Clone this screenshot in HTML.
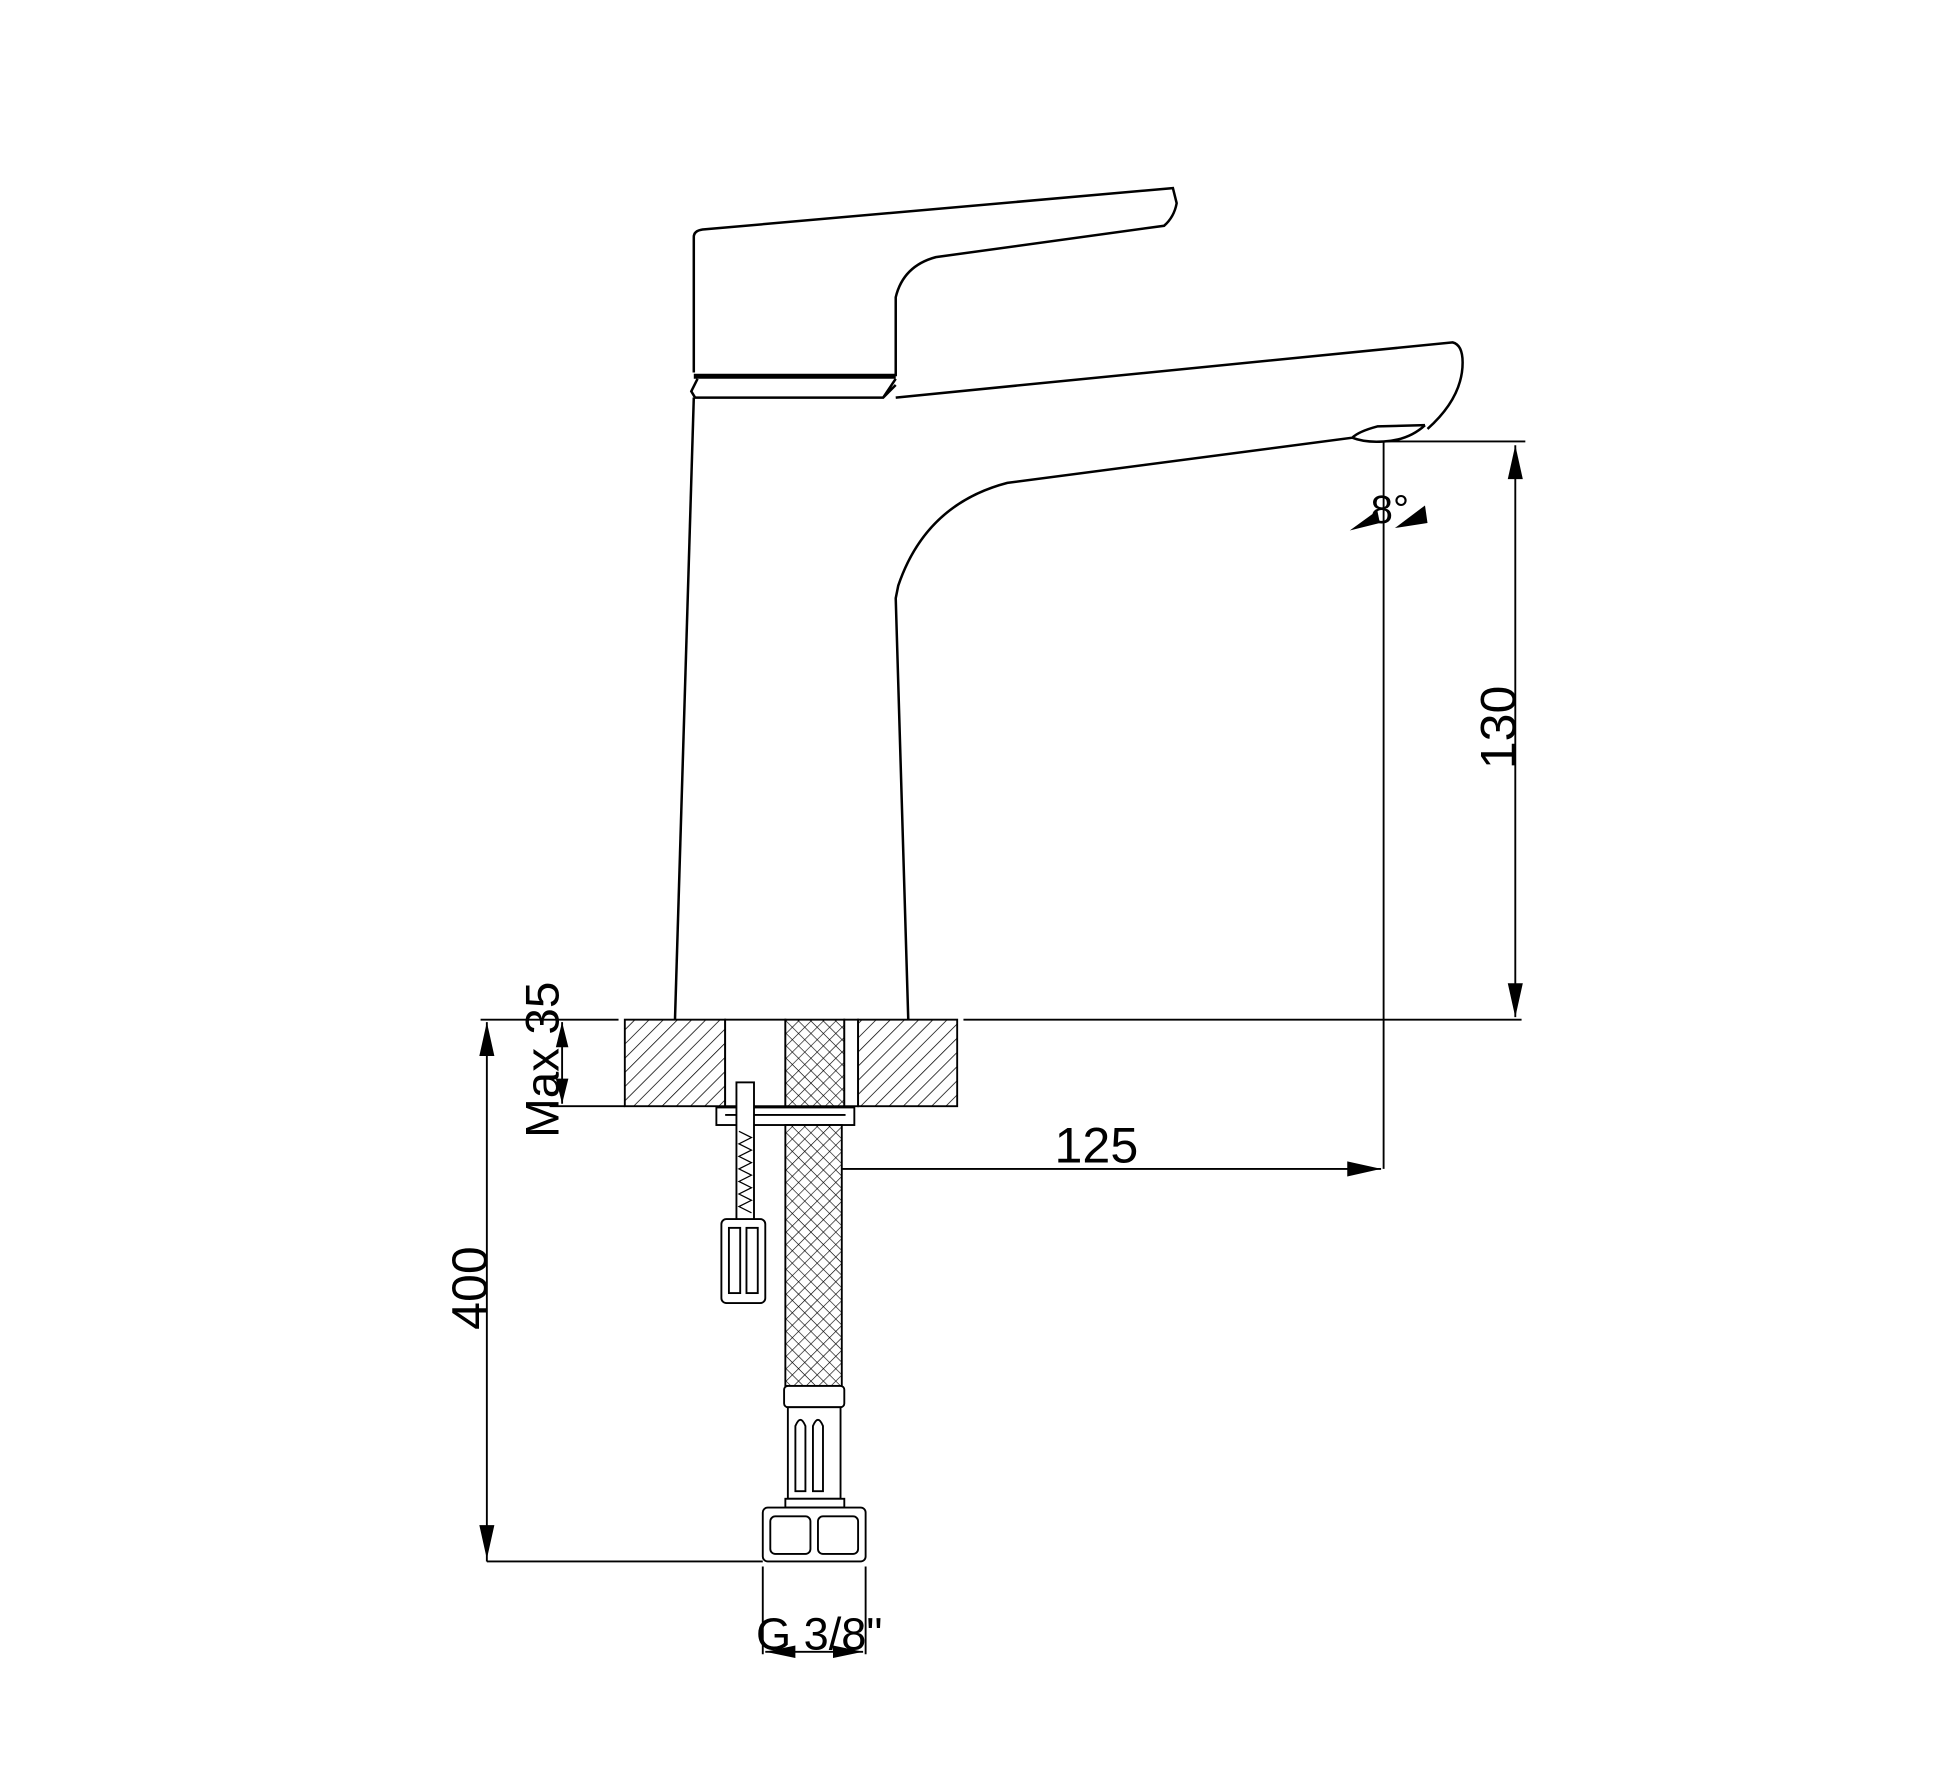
<!DOCTYPE html>
<html><head><meta charset="utf-8"><style>html,body{margin:0;padding:0;background:#fff}svg{display:block}</style></head>
<body>
<svg width="1957" height="1791" viewBox="2 3 1560 1428" xmlns="http://www.w3.org/2000/svg" font-family="Liberation Sans, sans-serif">
<defs>
<pattern id="hatch" width="8" height="8" patternUnits="userSpaceOnUse" patternTransform="rotate(45)">
<rect width="8" height="8" fill="#fff"/><line x1="0" y1="0" x2="0" y2="8" stroke="#000" stroke-width="1.2"/>
</pattern>
<pattern id="cross" width="7" height="7" patternUnits="userSpaceOnUse" patternTransform="rotate(45)">
<rect width="7" height="7" fill="#fff"/><line x1="0" y1="0" x2="0" y2="7" stroke="#000" stroke-width="1"/><line x1="0" y1="0" x2="7" y2="0" stroke="#000" stroke-width="1"/>
</pattern>
</defs>
<g fill="none" stroke="#000" stroke-width="2">
<path d="M555 300 L555 192 Q555 187 562 186 L937 153 L940 165 Q938 176 930 183 L748 208 Q722 215 716 240 L716 303"/>
<line x1="555" y1="303" x2="716" y2="303" stroke-width="4"/>
<path d="M558 305 L553 315 L556 320 L706 320 L716 310 M706 320 L716 305"/>
<path d="M716 320 L1160 276 Q1168 278 1168 292 Q1168 320 1140 345"/>
<path d="M1138 342 L1100 343 Q1085 347 1080 352 L805 388 Q740 405 718 470 L716 480 L726 816"/>
<path d="M1080 352 Q1090 356 1105 355 Q1125 354 1138 342"/>
<path d="M555 320 L540 816"/>
</g>
<g stroke="#000" stroke-width="1.5" fill="none">
<line x1="1105" y1="355" x2="1218" y2="355"/>
<line x1="1105" y1="355" x2="1105" y2="935"/>
<line x1="1210" y1="358" x2="1210" y2="814"/>
<line x1="385" y1="816" x2="495" y2="816"/>
<line x1="770" y1="816" x2="1215" y2="816"/>
<line x1="390" y1="818" x2="390" y2="1248"/>
<line x1="390" y1="1248" x2="610" y2="1248"/>
<line x1="440" y1="885" x2="500" y2="885"/>
<line x1="450" y1="818" x2="450" y2="883"/>
<line x1="645" y1="935" x2="1103" y2="935"/>
<line x1="640" y1="898" x2="640" y2="940"/>
<line x1="610" y1="1252" x2="610" y2="1322"/>
<line x1="692" y1="1252" x2="692" y2="1322"/>
<line x1="612" y1="1320" x2="690" y2="1320"/>
</g>
<g fill="#000">
<path d="M1210 358 L1204 385 L1216 385Z"/>
<path d="M1210 814 L1204 787 L1216 787Z"/>
<path d="M390 818 L384 845 L396 845Z"/>
<path d="M390 1246 L384 1219 L396 1219Z"/>
<path d="M450 818 L445 838 L455 838Z"/>
<path d="M450 883 L445 863 L455 863Z"/>
<path d="M1103 935 L1076 929 L1076 941Z"/>
<path d="M645 935 L668 929 L668 941Z"/>
<path d="M612 1320 L636 1315 L636 1325Z"/>
<path d="M690 1320 L666 1315 L666 1325Z"/>
<path d="M1078 426 L1102 420 L1100 410 Z"/>
<path d="M1140 420 L1114 424 L1138 406 Z"/>
</g>
<g stroke="#000" stroke-width="1.5">
<rect x="500" y="816" width="80" height="69" fill="url(#hatch)"/>
<rect x="580" y="816" width="48" height="69" fill="#fff"/>
<rect x="628" y="816" width="47" height="69" fill="url(#cross)"/>
<rect x="675" y="816" width="11" height="69" fill="#fff"/>
<rect x="686" y="816" width="79" height="69" fill="url(#hatch)"/>
<rect x="573" y="886" width="110" height="14" fill="#fff"/>
<line x1="580" y1="892" x2="676" y2="892"/>
<rect x="589" y="866" width="14" height="110" fill="#fff"/>
<path d="M591 905 L601 910 L591 915 L601 920 L591 925 L601 930 L591 935 L601 940 L591 945 L601 950 L591 955 L601 960 L591 965 L601 970" fill="none" stroke-width="1"/>
<rect x="577" y="975" width="35" height="67" rx="4" fill="#fff"/>
<rect x="583" y="982" width="9" height="52" fill="none"/>
<rect x="597" y="982" width="9" height="52" fill="none"/>
<rect x="628" y="900" width="45" height="208" fill="url(#cross)"/>
<rect x="627" y="1108" width="48" height="17" rx="3" fill="#fff"/>
<rect x="630" y="1125" width="42" height="73" fill="#fff"/>
<path d="M636 1192 V1140 Q640 1130 644 1140 V1192 Z M650 1192 V1140 Q654 1130 658 1140 V1192 Z" fill="none"/>
<rect x="628" y="1198" width="47" height="7" fill="#fff"/>
<rect x="610" y="1205" width="82" height="43" rx="4" fill="#fff"/>
<rect x="616" y="1212" width="32" height="30" rx="4" fill="none"/>
<rect x="654" y="1212" width="32" height="30" rx="4" fill="none"/>
</g>
<g fill="#000" font-size="40">
<text x="0" y="0" transform="translate(1210 583) rotate(-90)" text-anchor="middle">130</text>
<text x="0" y="0" transform="translate(390 1030) rotate(-90)" text-anchor="middle">400</text>
<text x="0" y="0" transform="translate(447 848) rotate(-90)" text-anchor="middle" font-size="38">Max 35</text>
<text x="876" y="930" text-anchor="middle">125</text>
<text x="655" y="1318" text-anchor="middle" font-size="36">G 3/8"</text>
<text x="1110" y="420" text-anchor="middle" font-size="32">8°</text>
</g>
</svg>
</body></html>
